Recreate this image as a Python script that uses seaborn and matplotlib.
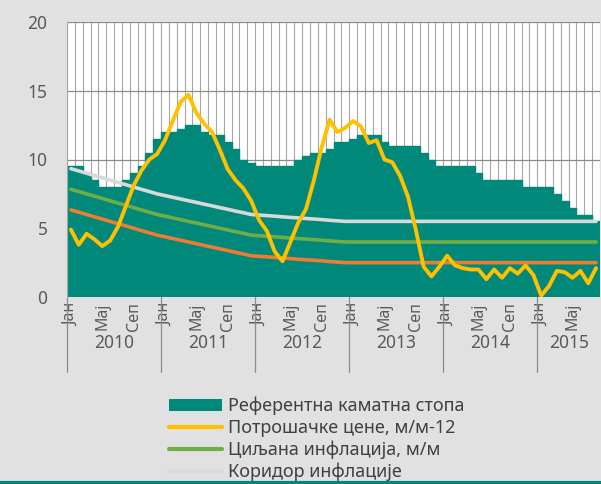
# key policy rate vs consumer prices and inflation target corridor, 2010-2015
import numpy as np
import pandas as pd
import matplotlib
matplotlib.use("Agg")
import matplotlib.pyplot as plt
import seaborn as sns
from matplotlib.patches import Patch
from matplotlib.lines import Line2D

sns.set_style("white")
plt.rcParams["font.family"] = ["Noto Sans", "DejaVu Sans"]

# monthly values, Jan 2010 - Aug 2015
years = ["2010", "2011", "2012", "2013", "2014", "2015"]
month_ticks = ["Јан", "Мај", "Сеп"]

key_rate = [9.5, 9.5, 9.0, 8.5, 8.0, 8.0, 8.0, 8.5, 9.0, 9.5, 10.5, 11.5,
            12.0, 12.0, 12.25, 12.5, 12.5, 12.0, 11.75, 11.75, 11.25, 10.75, 10.0, 9.75,
            9.5, 9.5, 9.5, 9.5, 9.5, 10.0, 10.25, 10.5, 10.5, 10.75, 11.25, 11.25,
            11.5, 11.75, 11.75, 11.75, 11.25, 11.0, 11.0, 11.0, 11.0, 10.5, 10.0, 9.5,
            9.5, 9.5, 9.5, 9.5, 9.0, 8.5, 8.5, 8.5, 8.5, 8.5, 8.0, 8.0,
            8.0, 8.0, 7.5, 7.0, 6.5, 6.0, 6.0, 5.5]

cpi = [4.9, 3.8, 4.6, 4.2, 3.7, 4.1, 5.1, 6.6, 8.1, 9.2, 10.0, 10.4,
       11.4, 12.8, 14.2, 14.7, 13.4, 12.6, 12.0, 10.7, 9.3, 8.5, 7.9, 7.0,
       5.6, 4.8, 3.3, 2.6, 4.0, 5.4, 6.4, 8.5, 10.9, 12.9, 12.0, 12.3,
       12.8, 12.4, 11.2, 11.4, 10.0, 9.8, 8.8, 7.3, 4.9, 2.2, 1.5, 2.2,
       3.0, 2.3, 2.1, 2.0, 2.0, 1.3, 2.0, 1.4, 2.1, 1.7, 2.3, 1.6,
       0.1, 0.8, 1.9, 1.8, 1.4, 1.9, 1.0, 2.1]

target = [7.83, 7.67, 7.5, 7.33, 7.17, 7.0, 6.83, 6.67, 6.5, 6.33, 6.17, 6.0,
          5.88, 5.75, 5.63, 5.5, 5.38, 5.25, 5.13, 5.0, 4.88, 4.75, 4.63, 4.5,
          4.46, 4.42, 4.38, 4.33, 4.29, 4.25, 4.21, 4.17, 4.13, 4.08, 4.04, 4.0,
          4.0, 4.0, 4.0, 4.0, 4.0, 4.0, 4.0, 4.0, 4.0, 4.0, 4.0, 4.0,
          4.0, 4.0, 4.0, 4.0, 4.0, 4.0, 4.0, 4.0, 4.0, 4.0, 4.0, 4.0,
          4.0, 4.0, 4.0, 4.0, 4.0, 4.0, 4.0, 4.0]

corridor_up = [9.33, 9.17, 9.0, 8.83, 8.67, 8.5, 8.33, 8.17, 8.0, 7.83, 7.67, 7.5,
               7.38, 7.25, 7.13, 7.0, 6.88, 6.75, 6.63, 6.5, 6.38, 6.25, 6.13, 6.0,
               5.96, 5.92, 5.88, 5.83, 5.79, 5.75, 5.71, 5.67, 5.63, 5.58, 5.54, 5.5,
               5.5, 5.5, 5.5, 5.5, 5.5, 5.5, 5.5, 5.5, 5.5, 5.5, 5.5, 5.5,
               5.5, 5.5, 5.5, 5.5, 5.5, 5.5, 5.5, 5.5, 5.5, 5.5, 5.5, 5.5,
               5.5, 5.5, 5.5, 5.5, 5.5, 5.5, 5.5, 5.5]

corridor_low = [6.33, 6.17, 6.0, 5.83, 5.67, 5.5, 5.33, 5.17, 5.0, 4.83, 4.67, 4.5,
                4.38, 4.25, 4.13, 4.0, 3.88, 3.75, 3.63, 3.5, 3.38, 3.25, 3.13, 3.0,
                2.96, 2.92, 2.88, 2.83, 2.79, 2.75, 2.71, 2.67, 2.63, 2.58, 2.54, 2.5,
                2.5, 2.5, 2.5, 2.5, 2.5, 2.5, 2.5, 2.5, 2.5, 2.5, 2.5, 2.5,
                2.5, 2.5, 2.5, 2.5, 2.5, 2.5, 2.5, 2.5, 2.5, 2.5, 2.5, 2.5,
                2.5, 2.5, 2.5, 2.5, 2.5, 2.5, 2.5, 2.5]

df = pd.DataFrame({"idx": np.arange(len(key_rate)), "rate": key_rate, "cpi": cpi,
                   "target": target, "up": corridor_up, "low": corridor_low})
n = len(df)

teal = "#00897B"
yellow = "#FFC000"
green = "#70AD47"
orange = "#ED7D31"
light = "#D9D9D9"
txt = "#595959"
bg = "#E1E1E1"

fig = plt.figure(figsize=(6.01, 4.84), dpi=100, facecolor=bg)
ax = fig.add_axes([67 / 601, 187 / 484, 533 / 601, 275 / 484])
ax.set_facecolor("white")

# vertical month grid and horizontal grid behind the bars
for b in np.arange(-0.5, n, 1.0):
    ax.axvline(b, color="#A6A6A6", lw=0.8, zorder=0)
for yv in [5, 10, 15, 20]:
    ax.axhline(yv, color="#8C8C8C", lw=0.9, zorder=0)

# edge in the bar colour hides the seams between touching bars
sns.barplot(data=df, x="idx", y="rate", color=teal, saturation=1, width=1.0,
            linewidth=1.0, edgecolor=teal, ax=ax, zorder=2)

sns.lineplot(x=df["idx"], y=df["low"], color=orange, lw=2.6, ax=ax, zorder=3)
sns.lineplot(x=df["idx"], y=df["target"], color=green, lw=2.6, ax=ax, zorder=3)
sns.lineplot(x=df["idx"], y=df["up"], color=light, lw=2.6, ax=ax, zorder=3)
sns.lineplot(x=df["idx"], y=df["cpi"], color=yellow, lw=2.8, ax=ax, zorder=4)

ax.set_xlim(-0.5, n - 0.5)
ax.set_ylim(0, 20)
ax.set_yticks([0, 5, 10, 15, 20])
ax.set_xlabel("")
ax.set_ylabel("")
ax.tick_params(axis="y", length=0, labelsize=12.5, labelcolor=txt, pad=14)

# month ticks (Jan, May, Sep each year)
tick_pos = [i for i in range(n) if i % 12 in (0, 4, 8)]
tick_lab = [month_ticks[(i % 12) // 4] for i in tick_pos]
ax.set_xticks(tick_pos)
ax.set_xticklabels(tick_lab, rotation=90, fontsize=11.5, color=txt)
ax.tick_params(axis="x", length=0, pad=4)

for s in ["top", "right", "bottom"]:
    ax.spines[s].set_visible(False)
ax.spines["left"].set_color("#A6A6A6")
ax.spines["left"].set_linewidth(0.8)

# year level of the category axis
for k, yr in enumerate(years):
    start = k * 12
    end = min(start + 12, n)
    ax.text((start + end - 1) / 2, -0.168, yr, transform=ax.get_xaxis_transform(),
            ha="center", va="center", fontsize=12.5, color=txt)
    ax.axvline(start - 0.5, ymin=-0.273, ymax=0, color="#8C8C8C", lw=0.9,
               clip_on=False)

handles = [Patch(facecolor=teal, edgecolor="none"),
           Line2D([], [], color=yellow, lw=3),
           Line2D([], [], color=green, lw=3),
           Line2D([], [], color=light, lw=3)]
labels = ["Референтна каматна стопа", "Потрошачке цене, м/м-12",
          "Циљана инфлација, м/м", "Коридор инфлације"]
leg = fig.legend(handles, labels, loc="upper left", bbox_to_anchor=(0.27, 0.195),
                 frameon=False, fontsize=13, handlelength=2.9, handleheight=0.7,
                 handletextpad=0.35, labelspacing=0.2, borderaxespad=0)
for t in leg.get_texts():
    t.set_color("#404040")

fig.add_artist(Line2D([0, 1], [0.003, 0.003], transform=fig.transFigure,
                      color=teal, lw=3, zorder=10))

fig.savefig("out.png", dpi=100, facecolor=bg)
